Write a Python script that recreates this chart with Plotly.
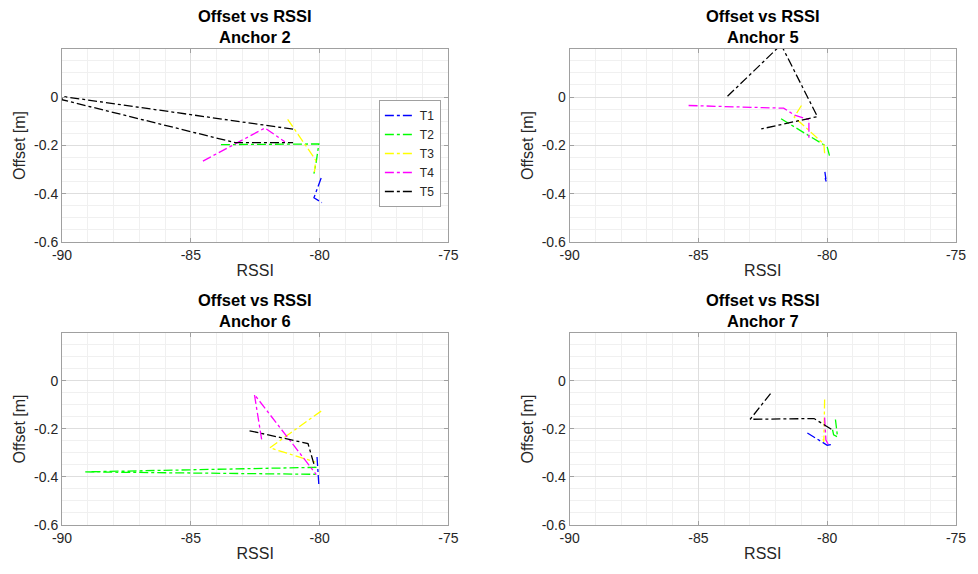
import plotly.graph_objects as go

TAGS = ["T1", "T2", "T3", "T4", "T5"]
COLORS = ["#0000FF", "#00FF00", "#FFFF00", "#FF00FF", "#000000"]
ANCHORS = ["Anchor 2", "Anchor 5", "Anchor 6", "Anchor 7"]

X_TICKS = [-90, -85, -80, -75]
X_TICK_TEXT = ["-90", "-85", "-80", "-75"]
Y_TICKS = [-0.6, -0.4, -0.2, 0]
Y_TICK_TEXT = ["-0.6", "-0.4", "-0.2", "0"]

# Anchor 2
A2_T1_RSSI = [-79.94, -80.22, -79.91]
A2_T1_OFF = [-0.335, -0.417, -0.437]
A2_T2_RSSI = [-83.83, -80.03, -80.13, -80.22]
A2_T2_OFF = [-0.197, -0.194, -0.268, -0.317]
A2_T3_RSSI = [-81.24, -80.15, -80.20]
A2_T3_OFF = [-0.092, -0.261, -0.310]
A2_T4_RSSI = [-84.53, -82.12, -81.35]
A2_T4_OFF = [-0.265, -0.128, -0.185]
A2_T5_RSSI = [-81.03, -90.0, -90.0, -83.27, -81.03]
A2_T5_OFF = [-0.133, 0.003, -0.011, -0.189, -0.189]

# Anchor 5
A5_T1_RSSI = [-80.09, -80.05, -80.10, -80.00]
A5_T1_OFF = [-0.310, -0.340, -0.330, -0.361]
A5_T2_RSSI = [-81.79, -80.00, -79.90]
A5_T2_OFF = [-0.090, -0.206, -0.247]
A5_T3_RSSI = [-81.00, -81.28, -80.13, -80.10]
A5_T3_OFF = [-0.035, -0.083, -0.194, -0.233]
A5_T4_RSSI = [-85.38, -81.69, -81.28, -80.71, -80.71]
A5_T4_OFF = [-0.035, -0.046, -0.074, -0.094, -0.178]
A5_T5_RSSI = [-83.87, -81.79, -80.38, -82.56]
A5_T5_OFF = [0.003, 0.217, -0.081, -0.132]

# Anchor 6
A6_T1_RSSI = [-80.10, -80.03]
A6_T1_OFF = [-0.317, -0.432]
A6_T2_RSSI = [-80.12, -89.15, -80.15]
A6_T2_OFF = [-0.360, -0.379, -0.389]
A6_T3_RSSI = [-79.94, -81.93, -80.17]
A6_T3_OFF = [-0.126, -0.279, -0.338]
A6_T4_RSSI = [-82.25, -82.53, -80.13]
A6_T4_OFF = [-0.244, -0.057, -0.390]
A6_T5_RSSI = [-82.72, -80.45, -80.19]
A6_T5_OFF = [-0.208, -0.261, -0.358]

# Anchor 7
A7_T1_RSSI = [-80.77, -80.00, -79.81]
A7_T1_OFF = [-0.217, -0.268, -0.265]
A7_T2_RSSI = [-79.68, -79.60, -79.75, -79.80]
A7_T2_OFF = [-0.161, -0.233, -0.225, -0.200]
A7_T3_RSSI = [-80.10, -80.13, -80.20]
A7_T3_OFF = [-0.078, -0.254, -0.230]
A7_T4_RSSI = [-80.10, -80.05, -79.94]
A7_T4_OFF = [-0.153, -0.247, -0.268]
A7_T5_RSSI = [-82.20, -82.99, -80.51, -79.77]
A7_T5_OFF = [-0.053, -0.160, -0.157, -0.206]

DATA = [
    [(A2_T1_RSSI, A2_T1_OFF), (A2_T2_RSSI, A2_T2_OFF), (A2_T3_RSSI, A2_T3_OFF), (A2_T4_RSSI, A2_T4_OFF), (A2_T5_RSSI, A2_T5_OFF)],
    [(A5_T1_RSSI, A5_T1_OFF), (A5_T2_RSSI, A5_T2_OFF), (A5_T3_RSSI, A5_T3_OFF), (A5_T4_RSSI, A5_T4_OFF), (A5_T5_RSSI, A5_T5_OFF)],
    [(A6_T1_RSSI, A6_T1_OFF), (A6_T2_RSSI, A6_T2_OFF), (A6_T3_RSSI, A6_T3_OFF), (A6_T4_RSSI, A6_T4_OFF), (A6_T5_RSSI, A6_T5_OFF)],
    [(A7_T1_RSSI, A7_T1_OFF), (A7_T2_RSSI, A7_T2_OFF), (A7_T3_RSSI, A7_T3_OFF), (A7_T4_RSSI, A7_T4_OFF), (A7_T5_RSSI, A7_T5_OFF)],
]

FONT = "Liberation Sans, Arial, sans-serif"
TXT = "#262626"

W, H = 978, 574
ML, MR, MT, MB = 62, 16, 49, 49
PW = W - ML - MR
PH = H - MT - MB

# pixel boxes (left, right, top, bottom)
BOXES = [(62, 451, 49, 242), (573, 962, 49, 242), (62, 451, 333, 525), (573, 962, 333, 525)]

fig = go.Figure()
layout = dict(
    width=W, height=H,
    margin=dict(l=ML, r=MR, t=MT, b=MB),
    paper_bgcolor="white", plot_bgcolor="white",
    font=dict(family=FONT, color=TXT, size=12),
    showlegend=True,
    legend=dict(
        x=(381 - ML) / PW, y=(H - MB - 100) / PH, xanchor="left", yanchor="top",
        bgcolor="white", bordercolor="#a0a0a0", borderwidth=1,
        font=dict(size=12, family=FONT, color=TXT),
        itemwidth=30, tracegroupgap=0,
    ),
)
annotations = []
for i, (l, r, t, b) in enumerate(BOXES):
    xd = [(l - ML) / PW, (r - ML) / PW]
    yd = [(H - MB - b) / PH, (H - MB - t) / PH]
    sfx = "" if i == 0 else str(i + 1)
    xa = "x" + sfx
    ya = "y" + sfx
    axis_common = dict(
        showline=True, mirror="allticks", linecolor="#a0a0a0", linewidth=1,
        ticks="inside", ticklen=4, tickcolor="#a0a0a0",
        showgrid=True, gridcolor="#dedede", gridwidth=1,
        zeroline=False, tickfont=dict(size=14, color=TXT, family=FONT),
    )
    layout["xaxis" + sfx] = dict(
        axis_common, domain=xd, anchor=ya, range=[-90, -75],
        tickmode="array", tickvals=X_TICKS, ticktext=X_TICK_TEXT,
        minor=dict(dtick=1, tick0=-90, showgrid=True, gridcolor="#f0f0f0", ticks=""),
        title=dict(text="RSSI", font=dict(size=16, color=TXT, family=FONT), standoff=3),
    )
    layout["yaxis" + sfx] = dict(
        axis_common, domain=yd, anchor=xa, range=[-0.6, 0.199],
        tickmode="array", tickvals=Y_TICKS, ticktext=Y_TICK_TEXT,
        minor=dict(dtick=0.05, tick0=0, showgrid=True, gridcolor="#f0f0f0", ticks=""),
        title=dict(text="Offset [m]", font=dict(size=16, color=TXT, family=FONT), standoff=4),
    )
    cx = ((l + r) / 2 - ML) / PW
    annotations.append(dict(
        text="<b>Offset vs RSSI</b><br><b>" + ANCHORS[i] + "</b>",
        x=cx, y=(H - MB - t + 1) / PH, xref="paper", yref="paper",
        xanchor="center", yanchor="bottom", showarrow=False,
        font=dict(size=16.5, color="#000000", family=FONT), align="center",
    ))
    for k, (xs, ys) in enumerate(DATA[i]):
        fig.add_trace(go.Scatter(
            x=xs, y=ys, mode="lines", name=TAGS[k],
            line=dict(color=COLORS[k], width=1.3, dash="dashdot"),
            xaxis=xa, yaxis=ya, showlegend=(i == 0),
        ))
layout["annotations"] = annotations
fig.update_layout(**layout)
fig.write_html("out.html")
